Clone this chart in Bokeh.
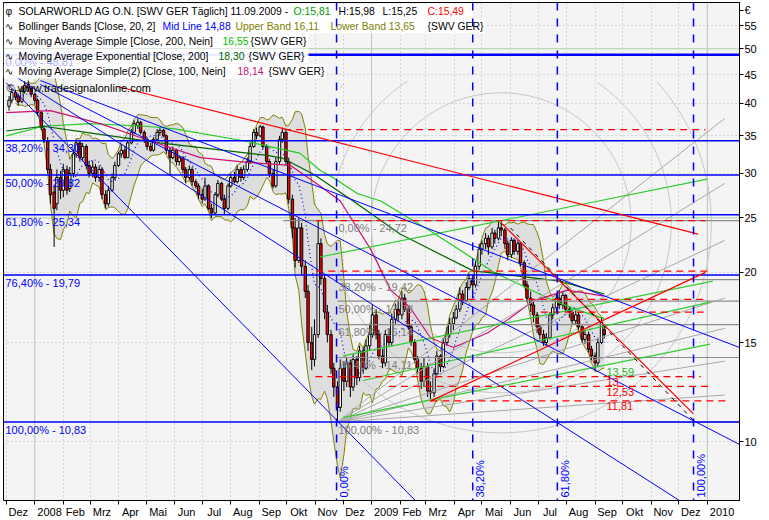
import numpy as np
import pandas as pd
from bokeh.plotting import figure
from bokeh.models import Range1d, FixedTicker, Label, Span
from bokeh.embed import file_html
from bokeh.resources import INLINE

BASE = pd.Timestamp("2008-01-01")


def dnum(s):
    return (pd.Timestamp(s) - BASE) / pd.Timedelta(days=1)


# placement helpers for annotations (reference pixel -> data)
def px_x(x):
    return (x - 34.3) / 0.92


def px_y(y):
    return 10 * np.exp((441 - y) / 244)


# ---------------- candle data (Tue/Fri samples) ----------------
O = [
    39.5, 40.5, 41.8, 41.2, 40.3, 42.0, 43.2, 42.5,
    41.5, 40.5, 38.5, 36.0, 34.3, 30.5, 27.8, 26.5, 29.5,
    28.0, 30.5, 28.2, 30.0, 32.5, 34.0, 32.0, 33.5, 31.0,
    30.0, 30.8, 29.5, 30.5, 27.5, 26.5, 28.0, 29.5,
    31.0, 32.5, 33.0, 32.0, 34.0, 35.5, 36.5, 37.0, 35.5,
    34.5, 33.5, 33.0, 34.5, 35.5, 35.8, 35.0, 33.0, 32.0,
    33.0, 31.5, 32.0, 30.5, 29.5, 30.5, 29.0, 28.5,
    27.5, 27.0, 28.5, 26.0, 25.5, 27.5, 28.8, 27.0, 26.0,
    28.5, 29.5, 29.0, 30.5, 29.5, 30.5, 31.5, 33.5, 35.5,
    35.0, 36.3, 33.5, 31.5, 30.0, 28.5, 31.5, 34.5, 35.5,
    31.5, 27.0, 24.0, 21.0, 24.0, 20.5, 18.5, 15.0, 14.0,
    15.5, 22.5, 19.5, 17.0, 15.5, 13.5, 12.5, 11.5,
    13.5, 12.8, 13.8, 12.5, 14.0, 13.0, 14.5, 13.5, 14.8,
    15.5, 16.8, 15.5, 14.2, 13.8, 15.5, 15.0, 16.5, 17.2,
    16.8, 18.0, 17.2, 16.0, 15.0, 14.0, 13.5, 12.8,
    13.6, 12.3, 12.2, 13.2, 14.2, 13.6, 15.0, 15.5, 16.2,
    16.6, 17.2, 18.3, 17.8, 18.8, 19.5, 19.0, 20.5,
    22.0, 22.5, 23.0, 22.2, 23.5, 23.0, 24.0, 23.8, 22.5,
    21.5, 22.8, 21.8, 22.5, 20.8, 19.0, 18.0, 17.5, 16.8,
    16.0, 15.5, 15.0, 15.3, 16.8, 17.3, 18.0, 17.5, 18.2,
    17.2, 17.0, 16.4, 16.8, 16.0, 15.2, 15.5, 14.6,
    14.2, 13.8, 15.0, 15.81,
]
H = [
    41.2, 42.4, 42.3, 41.6, 42.5, 43.8, 43.9, 42.8,
    41.8, 40.8, 38.8, 36.5, 34.8, 31.2, 28.5, 30.5, 30.3,
    31.2, 31.0, 30.8, 33.0, 34.5, 34.3, 34.0, 33.8, 31.6,
    31.6, 31.2, 31.0, 30.8, 28.0, 28.5, 30.0, 31.5,
    32.8, 33.8, 33.5, 34.3, 36.0, 37.3, 37.6, 37.2, 35.8,
    34.8, 34.0, 34.8, 36.0, 36.2, 36.0, 35.2, 33.3, 33.5,
    33.2, 32.3, 32.2, 30.8, 31.0, 30.8, 29.3, 28.8,
    28.2, 29.5, 28.7, 26.5, 27.8, 29.2, 29.0, 27.5, 28.8,
    30.0, 30.2, 31.0, 30.8, 31.0, 32.0, 34.0, 36.0, 36.2,
    36.6, 36.5, 33.8, 31.8, 30.5, 32.0, 35.0, 36.2, 35.8,
    32.0, 27.5, 25.0, 25.0, 24.5, 21.0, 19.0, 16.0, 16.5,
    24.72, 23.0, 19.8, 17.5, 15.8, 13.8, 12.8, 14.0,
    13.9, 14.1, 14.0, 14.3, 14.2, 14.8, 14.7, 15.2, 16.2,
    17.5, 17.2, 15.8, 14.6, 15.8, 15.9, 16.9, 17.6, 17.8,
    18.5, 18.3, 17.4, 16.2, 15.2, 14.2, 13.8, 14.1,
    13.8, 12.8, 13.5, 14.5, 14.3, 15.3, 16.0, 16.6, 17.0,
    17.5, 18.8, 18.6, 19.2, 19.9, 19.8, 21.0, 22.5,
    22.8, 23.5, 23.3, 24.0, 23.8, 24.6, 24.7, 24.0, 22.8,
    23.1, 23.0, 22.8, 22.6, 21.0, 19.3, 18.5, 17.8, 17.0,
    16.2, 15.8, 15.6, 17.0, 17.6, 18.4, 18.6, 18.5, 18.3,
    17.4, 17.2, 17.2, 17.0, 16.1, 15.8, 15.7, 14.8,
    14.4, 15.3, 16.6, 15.98,
]
L = [
    38.8, 40.0, 40.5, 39.6, 40.0, 41.6, 42.0, 41.0,
    39.8, 38.0, 35.8, 34.0, 30.0, 26.5, 22.2, 25.8, 27.0,
    27.2, 27.5, 27.8, 29.5, 32.0, 31.5, 31.5, 30.5, 29.5,
    29.5, 29.0, 29.0, 27.0, 26.0, 26.2, 27.8, 29.2,
    30.8, 32.0, 31.8, 32.0, 33.8, 35.2, 36.0, 35.2, 34.0,
    33.0, 32.8, 32.8, 34.3, 35.0, 34.8, 32.5, 29.8, 31.8,
    31.0, 31.0, 30.0, 28.8, 29.2, 28.5, 28.2, 27.0,
    26.5, 26.8, 25.8, 25.0, 25.3, 27.2, 26.8, 25.4, 25.8,
    28.3, 28.8, 28.8, 29.0, 29.2, 30.2, 31.2, 33.3, 34.5,
    34.8, 33.2, 31.2, 29.5, 28.2, 28.3, 31.2, 34.0, 31.0,
    26.5, 23.0, 20.4, 20.8, 19.8, 18.0, 14.5, 13.4, 13.6,
    15.3, 19.0, 16.5, 15.0, 13.2, 12.0, 10.83, 11.3,
    12.3, 12.5, 12.0, 12.3, 12.6, 12.8, 13.2, 13.4, 14.5,
    15.3, 15.2, 14.0, 13.5, 13.6, 14.8, 14.8, 16.2, 16.3,
    16.5, 17.0, 15.8, 14.8, 13.8, 13.2, 12.4, 12.5,
    12.0, 11.9, 12.0, 13.0, 13.3, 13.5, 14.8, 15.3, 15.8,
    16.5, 17.0, 17.5, 17.7, 18.6, 18.5, 18.8, 20.2,
    21.5, 22.0, 21.5, 22.0, 22.5, 22.8, 23.2, 22.0, 21.0,
    21.2, 21.5, 21.5, 20.5, 18.8, 17.7, 17.0, 16.3, 15.6,
    15.2, 14.8, 14.8, 15.2, 16.5, 17.0, 17.2, 17.2, 17.0,
    16.6, 16.2, 16.2, 15.8, 15.0, 14.9, 14.4, 13.9,
    13.4, 13.6, 14.9, 15.25,
]
C = [
    40.5, 41.8, 41.0, 40.2, 42.0, 43.0, 42.6, 41.5,
    40.5, 38.5, 36.2, 34.5, 30.5, 27.5, 26.0, 29.5, 28.0,
    30.5, 28.0, 30.0, 32.5, 34.0, 32.0, 33.5, 31.0, 30.0,
    30.8, 29.5, 30.5, 27.5, 26.5, 28.0, 29.5, 31.0,
    32.5, 33.0, 32.0, 34.0, 35.5, 36.8, 37.0, 35.5, 34.5,
    33.5, 33.0, 34.5, 35.5, 35.8, 35.0, 33.0, 32.0, 33.0,
    31.5, 32.0, 30.5, 29.5, 30.5, 29.0, 28.5, 27.5,
    27.0, 28.5, 26.0, 25.5, 27.5, 28.8, 27.0, 26.0, 28.5,
    29.5, 29.0, 30.5, 29.5, 30.5, 31.5, 33.5, 35.5, 35.0,
    36.3, 33.5, 31.5, 30.0, 28.5, 31.5, 34.5, 35.5, 31.5,
    27.0, 24.0, 21.0, 24.0, 20.5, 18.5, 15.0, 14.0, 15.5,
    22.5, 19.5, 17.0, 15.5, 13.5, 12.5, 11.5, 13.5,
    12.8, 13.8, 12.5, 14.0, 13.0, 14.5, 13.5, 14.8, 15.5,
    16.8, 15.5, 14.2, 13.8, 15.5, 15.0, 16.5, 17.2, 16.8,
    18.0, 17.2, 16.0, 15.0, 14.0, 13.5, 12.8, 13.6,
    12.3, 12.2, 13.2, 14.2, 13.6, 15.0, 15.5, 16.2, 16.6,
    17.2, 18.3, 17.8, 18.8, 19.5, 19.0, 20.5, 22.0,
    22.5, 23.0, 22.2, 23.5, 23.0, 24.0, 23.8, 22.5, 21.5,
    22.8, 21.8, 22.5, 20.8, 19.0, 18.0, 17.5, 16.8, 16.0,
    15.5, 15.0, 15.3, 16.8, 17.3, 18.0, 17.5, 18.2, 17.2,
    17.0, 16.4, 16.8, 16.0, 15.2, 15.5, 14.6, 14.2,
    13.8, 15.0, 16.3, 15.49,
]

# ---------------- indicator readings ----------------
sma200_dates = ["2007-12-01", "2008-01-10", "2008-03-01", "2008-05-01", "2008-06-01",
                "2008-08-15", "2008-10-15", "2008-11-06", "2008-11-20", "2008-12-17",
                "2009-01-11", "2009-03-06", "2009-04-15", "2009-05-14", "2009-06-15",
                "2009-07-15", "2009-08-15", "2009-09-11"]
sma200_vals = [35.0, 36.4, 36.8, 36.4, 36.0, 34.3, 32.6, 30.4, 29.5, 27.6,
               26.8, 23.7, 21.5, 20.0, 18.9, 17.9, 17.1, 16.55]

ema200_dates = ["2007-12-01", "2008-01-10", "2008-02-20", "2008-05-16", "2008-09-10",
                "2008-09-27", "2008-10-30", "2008-12-12", "2009-02-01", "2009-04-22",
                "2009-05-07", "2009-07-25", "2009-09-11"]
ema200_vals = [35.7, 36.4, 35.6, 34.0, 32.3, 31.9, 29.9, 26.8, 23.4, 20.1, 20.0, 19.3, 18.3]

sma100_dates = ["2007-12-01", "2008-01-18", "2008-03-12", "2008-05-05", "2008-06-29",
                "2008-08-19", "2008-10-05", "2008-11-06", "2008-11-28", "2008-12-31",
                "2009-01-22", "2009-02-12", "2009-03-06", "2009-03-31", "2009-05-07",
                "2009-06-01", "2009-06-26", "2009-08-02", "2009-09-11"]
sma100_vals = [38.5, 38.8, 36.8, 34.3, 32.0, 31.4, 31.0, 28.5, 26.8, 22.0,
               18.6, 17.3, 15.3, 14.7, 15.6, 16.6, 17.8, 18.6, 18.14]

# ---------------- drawing tools readings ----------------
fib1_levels = [48.81, 34.30, 29.82, 25.34, 19.79, 10.83]
fib1_labels = ["0,00% - 48,81", "38,20% - 34,30", "50,00% - 29,82", "61,80% - 25,34",
               "76,40% - 19,79", "100,00% - 10,83"]
fib2_levels = [24.72, 19.42, 17.78, 16.14, 14.11, 10.83]
fib2_labels = ["0,00% - 24,72", "38,20% - 19,42", "50,00% - 17,78", "61,80% - 16,14",
               "76,40% - 14,11", "100,00% - 10,83"]
fib2_start = "2008-11-25"

tz_dates = ["2008-11-24", "2009-04-21", "2009-07-22", "2009-12-17"]
tz_labels = ["0,00%", "38,20%", "61,80%", "100,00%"]

sr_levels = [35.9, 24.72, 20.1, 17.9, 17.0, 13.05, 12.53, 11.81]
sr_start = ["2008-09-28", "2008-11-02", "2008-11-02", "2009-02-23", "2009-07-04",
            "2008-11-01", "2009-01-20", "2009-03-06"]
sr_end = ["2009-12-30", "2009-12-30", "2010-01-01", "2009-12-30", "2009-12-30",
          "2009-12-25", "2010-01-04", "2010-01-25"]
sr_text = ["13,59", "13", "12,53", "11,81"]
sr_text_lvl = [13.59, 13.05, 12.53, 11.81]
sr_text_col = ["#22bb22", "#ff0000", "#ff0000", "#ff0000"]

red_x0 = ["2008-04-01", "2009-03-06", "2009-05-22"]
red_y0 = [42.8, 11.8, 24.5]
red_x1 = ["2009-12-22", "2009-12-30", "2009-12-17"]
red_y1 = [23.4, 20.0, 11.2]

blk_x0, blk_y0, blk_x1, blk_y1 = "2009-06-01", 24.0, "2009-12-17", 10.9

blue_x0 = ["2007-12-01", "2007-12-01", "2008-01-07", "2008-01-07"]
blue_y0 = [43.5, 45.7, 43.9, 43.2]
blue_x1 = ["2009-03-11", "2010-01-05", "2010-02-05", "2010-02-05"]
blue_y1 = [7.23, 7.23, 14.7, 9.88]

green_x0 = ["2008-11-06", "2008-12-01", "2008-12-23", "2008-12-01"]
green_y0 = [21.3, 14.2, 12.84, 11.03]
green_x1 = ["2010-01-01", "2010-01-07", "2010-01-04", "2010-01-04"]
green_y1 = [29.3, 19.3, 17.7, 14.9]

fan_x0, fan_y0 = "2008-11-25", 10.83
fan_x1 = "2010-01-20"
fan_y1 = [37.6, 28.8, 22.8, 18.0, 15.9, 13.9, 12.1]

# fibonacci arcs (center at the May-2009 swing high, radii in screen px)
arc_center_date, arc_center_price = "2009-05-22", 24.5
arc_radii_px = [130, 170, 210]

months_de = ["", "Feb", "Mrz", "Apr", "Mai", "Jun", "Jul", "Aug", "Sep", "Okt", "Nov", "Dez"]

# ---------------- figure ----------------
FONT = "Liberation Sans"
p = figure(width=769, height=520, output_backend="svg", toolbar_location=None,
           x_range=Range1d(px_x(3), px_x(739)), y_range=Range1d(px_y(500), px_y(2)),
           y_axis_type="log", y_axis_location="right",
           background_fill_color="#f4f4f4", border_fill_color="white",
           min_border_left=3, min_border_top=2, min_border_right=30, min_border_bottom=20)
p.outline_line_color = "black"
p.outline_line_alpha = 1.0

# ticks / grid
month_starts = pd.date_range("2007-12-01", "2010-01-01", freq="MS")
ms_num = [int(dnum(m)) for m in month_starts]
lab_pos, lab_map = [], {}
for m, v in zip(month_starts, ms_num):
    txt = str(m.year) if m.month == 1 else months_de[m.month - 1]
    off = int(round((len(txt) * 3.1 + 2.5) / 0.92))
    lab_pos.append(v + off)
    lab_map[v + off] = txt
p.xaxis.ticker = FixedTicker(ticks=lab_pos, minor_ticks=ms_num)
p.xaxis.major_label_overrides = lab_map
p.xaxis.major_tick_line_color = None
p.xaxis.major_tick_out = 0
p.xaxis.major_tick_in = 0
p.xaxis.minor_tick_out = 4
p.xaxis.minor_tick_in = 0
p.xaxis.minor_tick_line_color = "black"
p.xaxis.axis_line_color = "black"
p.xaxis.major_label_standoff = 1
p.xaxis.major_label_text_font = FONT
p.xaxis.major_label_text_font_size = "11px"
p.xaxis.major_label_text_color = "black"

yt = [10, 15, 20, 25, 30, 35, 40, 45, 50, 55]
p.yaxis.ticker = FixedTicker(ticks=yt + [58.5])
ov = {v: str(v) for v in yt}
ov[58.5] = "\u20ac"
p.yaxis.major_label_overrides = ov
p.yaxis.minor_tick_line_color = None
p.yaxis.major_tick_out = 4
p.yaxis.major_tick_in = 0
p.yaxis.major_label_standoff = 1
p.yaxis.major_label_text_font = FONT
p.yaxis.major_label_text_font_size = "11px"
p.yaxis.major_label_text_color = "black"
p.yaxis.axis_line_color = "black"

p.xgrid.ticker = FixedTicker(ticks=ms_num)
p.xgrid.grid_line_color = "#b8b8b8"
p.xgrid.grid_line_dash = "1 3"
p.ygrid.ticker = FixedTicker(ticks=yt)
p.ygrid.grid_line_color = "#b8b8b8"
p.ygrid.grid_line_dash = "1 3"

for yr in ["2008-01-01", "2009-01-01", "2010-01-01"]:
    p.add_layout(Span(location=dnum(yr), dimension="height", line_color="#b4c8b4",
                      line_width=1, level="underlay"))
for lv in [25, 50]:
    p.add_layout(Span(location=lv, dimension="width", line_color="#b4d2b4",
                      line_width=1, level="underlay"))

# candle arrays
cdates = pd.date_range("2007-12-04", "2009-09-11", freq="W-TUE").union(
    pd.date_range("2007-12-04", "2009-09-11", freq="W-FRI"))
n = min(len(cdates), len(O), len(H), len(L), len(C))
xs = np.array([dnum(d) for d in cdates[:n]])
o = np.array(O[:n]); c = np.array(C[:n])
h = np.maximum(np.array(H[:n]), np.maximum(o, c))
lo = np.minimum(np.array(L[:n]), np.minimum(o, c))

# Bollinger (20 trading days ~ 8 half-week samples)
cs = pd.Series(c)
mid = cs.rolling(8, min_periods=3).mean()
sd = cs.rolling(8, min_periods=3).std(ddof=0)
up = mid + 2 * sd
dn = mid - 2 * sd
ok = ~mid.isna().values
p.varea(x=xs[ok], y1=dn.values[ok], y2=up.values[ok], fill_color="#dedede", fill_alpha=1.0)
p.line(xs[ok], up.values[ok], line_color="#808000", line_width=1)
p.line(xs[ok], dn.values[ok], line_color="#808000", line_width=1)

# fibonacci arcs (light gray)
acx = 34.3 + dnum(arc_center_date) * 0.92
acy = 441 - 244 * np.log(arc_center_price / 10)
th = np.linspace(0, 2 * np.pi, 240)
for r in arc_radii_px:
    ax_ = acx + r * np.cos(th)
    ay_ = acy + r * np.sin(th)
    m = (ax_ >= 337) & (ay_ >= 80)
    ax_ = np.where(m, ax_, np.nan)
    p.line(px_x(ax_), px_y(ay_), line_color="#c6c6c6", line_width=1)

# candles
p.segment(x0=xs, y0=lo, x1=xs, y1=h, line_color="black", line_width=1)
colors = ["white" if cc >= oo else "#ff0000" for oo, cc in zip(o, c)]
p.vbar(x=xs, width=2.6, top=np.maximum(o, c), bottom=np.minimum(o, c),
       fill_color=colors, line_color="black", line_width=1)

p.line(xs[ok], mid.values[ok], line_color="#0000ff", line_width=1.2, line_dash="1 3")

# moving averages
p.line([dnum(d) for d in sma200_dates], sma200_vals, line_color="#22cc22", line_width=1.2)
p.line([dnum(d) for d in ema200_dates], ema200_vals, line_color="#006400", line_width=1.2)
p.line([dnum(d) for d in sma100_dates], sma100_vals, line_color="#cc1177", line_width=1.2)

# gray fib (second retracement)
for i, lv in enumerate(fib2_levels):
    x0 = dnum("2008-09-27") if i == 0 else dnum(fib2_start)
    p.line([x0, px_x(739)], [lv, lv], line_color="#8c8c8c", line_width=1.2)

# gray fan
for yy in fan_y1:
    p.line([dnum(fan_x0), dnum(fan_x1)], [fan_y0, yy], line_color="#a8a8a8", line_width=1)

# green lines
for a, b, cc_, d in zip(green_x0, green_y0, green_x1, green_y1):
    p.line([dnum(a), dnum(cc_)], [b, d], line_color="#33cc33", line_width=1.2)

# blue diagonals
for a, b, cc_, d in zip(blue_x0, blue_y0, blue_x1, blue_y1):
    p.line([dnum(a), dnum(cc_)], [b, d], line_color="#0000ff", line_width=1)

# blue fib horizontals (full width)
for i, lv in enumerate(fib1_levels):
    p.line([px_x(0), px_x(745)], [lv, lv], line_color="#0000ff", line_width=2.5 if i == 0 else 1.5)

# red dashed support/resistance
for lv, a, b in zip(sr_levels, sr_start, sr_end):
    p.line([dnum(a), dnum(b)], [lv, lv], line_color="#ff0000", line_width=1.3, line_dash="7 5")

# red trend lines
for a, b, cc_, d in zip(red_x0, red_y0, red_x1, red_y1):
    p.line([dnum(a), dnum(cc_)], [b, d], line_color="#ff0000", line_width=1.2)
p.line([dnum(blk_x0), dnum(blk_x1)], [blk_y0, blk_y1], line_color="black", line_width=1,
       line_dash="4 5")

# time zones
for d in tz_dates:
    p.add_layout(Span(location=dnum(d), dimension="height", line_color="#0000ff",
                      line_width=1.5, line_dash="8 8"))
for d, t in zip(tz_dates, tz_labels):
    p.add_layout(Label(x=dnum(d) + 1.5, y=px_y(497), text=t, angle=np.pi / 2,
                       text_align="left", text_baseline="top", text_color="#0000ff",
                       text_font=FONT, text_font_size="11px"))

# fib labels
for i, (lv, t) in enumerate(zip(fib1_levels, fib1_labels)):
    p.add_layout(Label(x=px_x(5), y=lv * 0.993, text=t, text_baseline="top",
                       text_color="#0000ff", text_alpha=0.35 if i == 0 else 1.0,
                       text_font=FONT, text_font_size="11px"))
for lv, t in zip(fib2_levels, fib2_labels):
    p.add_layout(Label(x=dnum(fib2_start) + 1, y=lv * 0.993, text=t, text_baseline="top",
                       text_color="#808080", text_font=FONT, text_font_size="11px"))
for lv, t, col in zip(sr_text_lvl, sr_text, sr_text_col):
    p.add_layout(Label(x=px_x(606), y=lv * 0.995, text=t, text_baseline="top",
                       text_color=col, text_font=FONT, text_font_size="11px"))

# legend boxes
rows_y = [10.7, 25.5, 40.5, 55.5, 70.7]
rows_r = [472, 485, 308, 308, 325]
for yc, r in zip(rows_y, rows_r):
    p.quad(left=px_x(3), right=px_x(r), top=px_y(yc - 7.2), bottom=px_y(yc + 7.2),
           fill_color="white", fill_alpha=0.92, line_color=None)

GREEN_T = "#00a000"
OLIVE = "#808000"
rows = [
    [("\u03c6", "black", 5), ("SOLARWORLD AG O.N. [SWV GER  T\u00e4glich] 11.09.2009 -", "black", 18),
     ("O:15,81", GREEN_T, 293), ("H:15,98", "black", 338), ("L:15,25", "black", 382),
     ("C:15,49", "#ff0000", 427)],
    [("\u223f", "black", 4), ("Bollinger Bands [Close, 20, 2]", "black", 18),
     ("Mid Line 14,88", "#0000ff", 162), ("Upper Band 16,11", OLIVE, 235),
     ("Lower Band 13,65", OLIVE, 330), ("{SWV GER}", "black", 427)],
    [("\u223f", "black", 4), ("Moving Average Simple [Close, 200, Nein]", "black", 18),
     ("16,55", "#00c000", 222), ("{SWV GER}", "black", 250)],
    [("\u223f", "black", 4), ("Moving Average Exponential [Close, 200]", "black", 18),
     ("18,30", "#006400", 218), ("{SWV GER}", "black", 248)],
    [("\u223f", "black", 4), ("Moving Average Simple(2) [Close, 100, Nein]", "black", 18),
     ("18,14", "#cc1177", 237), ("{SWV GER}", "black", 268)],
]
for yc, row in zip(rows_y, rows):
    for t, col, xp in row:
        p.add_layout(Label(x=px_x(xp), y=px_y(yc), text=t, text_baseline="middle",
                           text_color=col, text_font=FONT, text_font_size="10.4px"))

p.add_layout(Label(x=px_x(6), y=px_y(87), text="\u00a9 www.tradesignalonline.com",
                   text_baseline="middle", text_color="black", text_font=FONT,
                   text_font_size="11px"))

open("out.html", "w").write(file_html(p, INLINE))
